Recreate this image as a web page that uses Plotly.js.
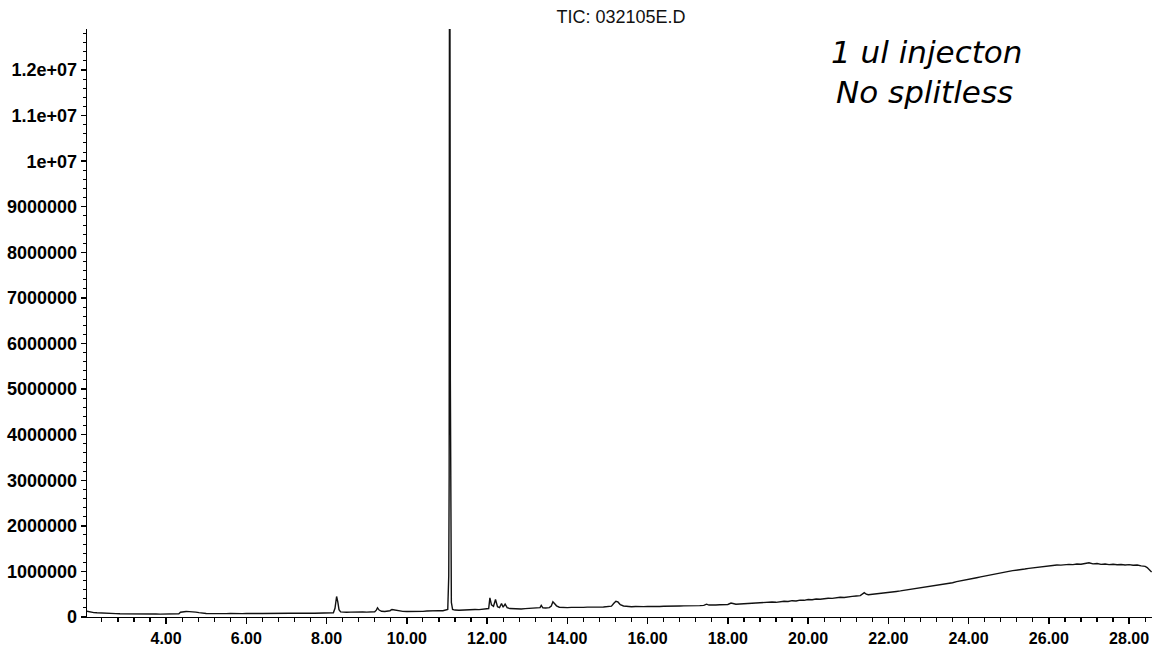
<!DOCTYPE html>
<html>
<head>
<meta charset="utf-8">
<script src="https://cdn.plot.ly/plotly-3.0.1.min.js"></script>
<style>html,body{margin:0;padding:0;background:#fff;} #chart{width:1155px;height:647px;}</style>
</head>
<body>
<div id="chart"></div>
<script>
// Retention time (min)
const retentionTime = [
  2.03, 2.08, 2.13, 2.2, 2.28, 2.36, 2.45, 2.55, 2.65, 2.75, 2.85, 2.95, 3.05, 3.15, 3.25, 3.35, 3.45, 3.55, 3.65, 3.75, 3.85, 3.95,
  4.05, 4.15, 4.25, 4.32, 4.36, 4.42, 4.5, 4.58, 4.66, 4.74, 4.82, 4.9, 5.0, 5.1, 5.2, 5.3, 5.4, 5.5, 5.6, 5.7, 5.8, 5.9,
  6.0, 6.1, 6.2, 6.3, 6.4, 6.5, 6.6, 6.7, 6.8, 6.9, 7.0, 7.1, 7.2, 7.3, 7.4, 7.5, 7.6, 7.7, 7.8, 7.9, 8.0, 8.1, 8.17,
  8.21, 8.25, 8.28, 8.31, 8.35, 8.42, 8.5, 8.6, 8.7, 8.8, 8.9, 9.0, 9.1, 9.2, 9.24, 9.27, 9.31, 9.37, 9.45, 9.52, 9.58,
  9.63, 9.67, 9.72, 9.8, 9.9, 10.0, 10.1, 10.2, 10.3, 10.4, 10.5, 10.6, 10.7, 10.8, 10.9, 10.97, 11.02, 11.045,
  11.055, 11.062, 11.075, 11.085, 11.095, 11.11, 11.14, 11.2, 11.3, 11.4, 11.5, 11.6, 11.7, 11.8, 11.9, 12.0, 12.04,
  12.07, 12.11, 12.16, 12.21, 12.26, 12.31, 12.36, 12.4, 12.45, 12.5, 12.57, 12.65, 12.75, 12.85, 12.95, 13.05, 13.15,
  13.25, 13.32, 13.35, 13.39, 13.46, 13.55, 13.6, 13.64, 13.68, 13.73, 13.8, 13.9, 14.0, 14.1, 14.2, 14.3, 14.4, 14.5,
  14.6, 14.7, 14.8, 14.9, 15.0, 15.1, 15.16, 15.21, 15.26, 15.32, 15.4, 15.5, 15.6, 15.7, 15.8, 15.9, 16.0, 16.1, 16.2,
  16.3, 16.4, 16.5, 16.6, 16.7, 16.8, 16.9, 17.0, 17.1, 17.2, 17.3, 17.4, 17.47, 17.53, 17.6, 17.7, 17.8, 17.9, 18.0,
  18.08, 18.14, 18.2, 18.3, 18.4, 18.5, 18.6, 18.7, 18.8, 18.9,
  19.0, 19.1, 19.2, 19.3, 19.4, 19.5, 19.6, 19.7, 19.8, 19.9, 20.0, 20.1, 20.2, 20.3, 20.4, 20.5, 20.6, 20.7, 20.8, 20.9,
  21.0, 21.1, 21.2, 21.3, 21.4, 21.45, 21.5, 21.6, 21.7, 21.8, 21.9, 22.0, 22.1, 22.2, 22.3, 22.4, 22.5, 22.6, 22.7, 22.8,
  22.9, 23.0, 23.1, 23.2, 23.3, 23.4, 23.5, 23.6, 23.7, 23.8, 23.9, 24.0, 24.1, 24.2, 24.3, 24.4, 24.5, 24.6, 24.7, 24.8,
  24.9, 25.0, 25.1, 25.2, 25.3, 25.4, 25.5, 25.6, 25.7, 25.8, 25.9, 26.0, 26.1, 26.2, 26.3, 26.4, 26.5, 26.6, 26.7, 26.8,
  26.9, 27.0, 27.1, 27.2, 27.3, 27.4, 27.5, 27.6, 27.7, 27.8, 27.9, 28.0, 28.1, 28.2, 28.3, 28.4, 28.45, 28.5, 28.56
];

// Total ion current abundance
const abundance = [
  125000, 112000, 104000, 97000, 92000, 86000, 82000, 78000, 75000, 73000, 70000, 71000, 67000, 69000, 66000, 68000, 64000, 67000, 65000, 66000, 63000, 65000,
  64000, 67000, 66000, 72000, 104000, 118000, 122000, 117000, 119000, 108000, 96000, 84000, 78000, 75000, 72000, 74000, 71000, 75000, 78000, 74000, 77000, 75000,
  79000, 83000, 80000, 78000, 76000, 79000, 75000, 80000, 78000, 82000, 80000, 83000, 81000, 85000, 82000, 84000, 86000, 83000, 88000, 86000, 90000, 89000, 93000,
  190000, 450000, 330000, 160000, 112000, 100000, 103000, 106000, 102000, 108000, 110000, 107000, 113000, 116000, 150000, 200000, 152000, 126000, 122000, 128000, 138000,
  165000, 158000, 140000, 130000, 124000, 121000, 118000, 122000, 126000, 124000, 130000, 128000, 135000, 140000, 138000, 148000, 165000, 900000,
  3100000, 13500000, 13500000, 5200000, 1400000, 320000, 165000, 152000, 148000, 155000, 160000, 157000, 165000, 162000, 170000, 172000, 185000,
  420000, 265000, 235000, 385000, 225000, 205000, 295000, 215000, 285000, 205000, 185000, 178000, 182000, 176000, 184000, 188000, 186000,
  192000, 205000, 255000, 200000, 196000, 205000, 240000, 335000, 295000, 245000, 215000, 208000, 205000, 212000, 208000, 215000, 211000, 217000,
  213000, 219000, 216000, 221000, 224000, 238000, 300000, 345000, 330000, 268000, 242000, 232000, 226000, 229000, 223000, 227000, 230000, 226000, 232000,
  229000, 235000, 233000, 238000, 236000, 241000, 244000, 242000, 248000, 251000, 249000, 256000, 282000, 262000, 258000, 264000, 268000, 266000, 274000,
  305000, 286000, 280000, 286000, 292000, 290000, 298000, 302000, 306000, 312000,
  320000, 328000, 322000, 338000, 345000, 340000, 358000, 352000, 370000, 366000, 385000, 378000, 395000, 390000, 405000, 412000, 408000, 425000, 432000, 428000,
  448000, 452000, 460000, 468000, 535000, 500000, 488000, 498000, 505000, 520000, 515000, 540000, 548000, 560000, 572000, 585000, 592000, 610000, 625000, 632000,
  650000, 665000, 672000, 695000, 708000, 722000, 740000, 752000, 775000, 790000, 802000, 825000, 840000, 862000, 880000, 895000, 918000, 935000, 955000, 968000,
  985000, 1000000, 1018000, 1025000, 1045000, 1052000, 1068000, 1080000, 1090000, 1105000, 1110000, 1125000, 1130000, 1142000, 1138000, 1150000, 1155000, 1148000, 1162000, 1158000,
  1170000, 1190000, 1165000, 1172000, 1155000, 1162000, 1150000, 1158000, 1145000, 1152000, 1140000, 1148000, 1135000, 1140000, 1122000, 1110000, 1085000, 1040000, 985000
];

const xTickVals = [4, 6, 8, 10, 12, 14, 16, 18, 20, 22, 24, 26, 28];
const xTickText = ["4.00", "6.00", "8.00", "10.00", "12.00", "14.00", "16.00", "18.00", "20.00", "22.00", "24.00", "26.00", "28.00"];
const yTickVals = [0, 1000000, 2000000, 3000000, 4000000, 5000000, 6000000, 7000000, 8000000, 9000000, 10000000, 11000000, 12000000];
const yTickText = ["0", "1000000", "2000000", "3000000", "4000000", "5000000", "6000000", "7000000", "8000000", "9000000", "1e+07", "1.1e+07", "1.2e+07"];

const titleText = "TIC: 032105E.D";
const noteLines = ["1 ul injecton", "No splitless"];

const W = 1155, H = 647;
const M = {l: 87, r: 3, t: 29, b: 30};
const pw = W - M.l - M.r, ph = H - M.t - M.b;
function px2paperX(px) { return (px - M.l) / pw; }
function px2paperY(py) { return (H - M.b - py) / ph; }

const yTickFont = {family: "Liberation Sans, Arial, sans-serif", size: 18, color: "#000", weight: "bold"};
const xTickFont = {family: "Liberation Sans, Arial, sans-serif", size: 16, color: "#000", weight: "bold"};
const noteFont = {family: "DejaVu Sans, sans-serif", size: 31, color: "#000", style: "italic"};

const trace = {
  x: retentionTime,
  y: abundance,
  type: "scatter",
  mode: "lines",
  line: {color: "#111", width: 1.4},
  hoverinfo: "x+y"
};

const layout = {
  width: W, height: H,
  margin: M,
  paper_bgcolor: "#fff",
  plot_bgcolor: "#fff",
  showlegend: false,
  title: {
    text: titleText,
    x: 621 / W, xanchor: "center", xref: "container",
    y: 1 - 17 / H, yanchor: "middle", yref: "container",
    font: {family: "Liberation Sans, Arial, sans-serif", size: 18, color: "#111"}
  },
  xaxis: {
    range: [2.03, 28.57],
    tickmode: "array", tickvals: xTickVals, ticktext: xTickText,
    ticks: "outside", ticklen: 6, tickwidth: 1.4, tickcolor: "#000",
    minor: {tickmode: "linear", tick0: 0, dtick: 0.4, ticks: "outside", ticklen: 4, tickwidth: 1.2, tickcolor: "#000", showgrid: false},
    showline: true, linecolor: "#000", linewidth: 1.4,
    showgrid: false, zeroline: false,
    tickfont: xTickFont,
    fixedrange: true
  },
  yaxis: {
    range: [0, 12900000],
    tickmode: "array", tickvals: yTickVals, ticktext: yTickText,
    ticks: "outside", ticklen: 5, tickwidth: 1.4, tickcolor: "#000",
    minor: {tickmode: "linear", tick0: 0, dtick: 200000, ticks: "outside", ticklen: 3, tickwidth: 1, tickcolor: "#000", showgrid: false},
    showline: true, linecolor: "#000", linewidth: 1.4,
    showgrid: false, zeroline: false,
    tickfont: yTickFont,
    fixedrange: true
  },
  annotations: [
    {
      text: noteLines[0], xref: "paper", yref: "paper",
      x: px2paperX(926), y: px2paperY(52), xanchor: "center", yanchor: "middle",
      showarrow: false, font: noteFont
    },
    {
      text: noteLines[1], xref: "paper", yref: "paper",
      x: px2paperX(924), y: px2paperY(92), xanchor: "center", yanchor: "middle",
      showarrow: false, font: noteFont
    }
  ]
};

Plotly.newPlot("chart", [trace], layout, {displayModeBar: false, staticPlot: true});
</script>
</body>
</html>
